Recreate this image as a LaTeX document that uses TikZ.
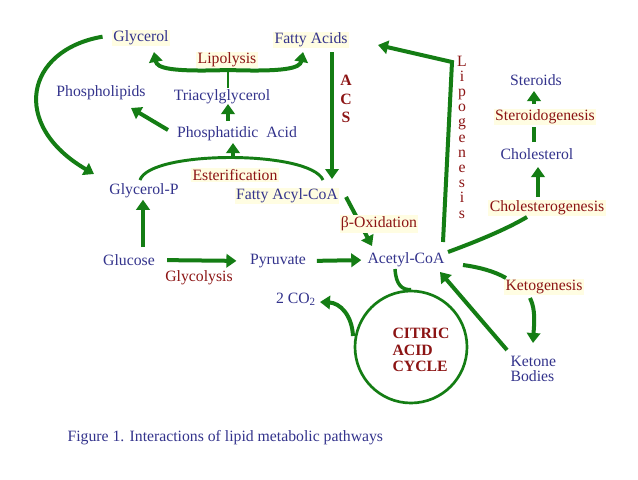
\documentclass[tikz,border=0pt]{standalone}
\usepackage{fontspec}
\setmainfont{Liberation Serif}
\usetikzlibrary{arrows.meta}
\definecolor{tblue}{RGB}{51,51,140}
\definecolor{tred}{RGB}{140,20,20}
\definecolor{tgreen}{RGB}{20,125,20}
\definecolor{cream}{RGB}{255,253,226}
\tikzset{
  met/.style={text=tblue, font=\fontsize{11.8}{13}\selectfont, inner sep=1pt},
  proc/.style={text=tred, font=\fontsize{11.8}{13}\selectfont, inner sep=1pt},
  hl/.style={fill=cream},
  flow/.style={draw=tgreen, line width=3pt, -{Triangle[length=7.5pt,width=10pt]}},
  link/.style={draw=tgreen, line width=3pt},
  thinlink/.style={draw=tgreen, line width=2pt},
}
\begin{document}
\begin{tikzpicture}[x=0.75pt,y=-0.75pt]
\useasboundingbox[fill=white] (0,0) rectangle (638,479);

% metabolites and processes
\node[met,hl] (glycerol) at (141,38) {Glycerol};
\node[met,hl] (fa) at (311,40) {Fatty Acids};
\node[proc,hl] (lipolysis) at (227,60) {Lipolysis};
\node[met] (phl) at (101,93) {Phospholipids};
\node[met] (tag) at (222,97) {Triacylglycerol};
\node[met] (pa) at (237,134) {Phosphatidic\ \ Acid};
\node[proc,hl] (ester) at (235,175) {Esterification};
\node[met] (glyp) at (144,191) {Glycerol-P};
\node[met,hl] (facoa) at (287,196) {Fatty Acyl-CoA};
\node[met] (glucose) at (129,260) {Glucose};
\node[proc] (glycolysis) at (199,278) {Glycolysis};
\node[met] (pyr) at (278,261) {Pyruvate};
\node[met] (acoa) at (406,260) {Acetyl-CoA};
\node[met] (co2) at (296,299) {2 CO\textsubscript{2}};
\node[met] (steroids) at (536,80) {Steroids};
\node[proc,hl] (sgen) at (545,117) {Steroidogenesis};
\node[met] (chol) at (537,154) {Cholesterol};
\node[proc,hl] (cgen) at (547,208) {Cholesterogenesis};
\node[proc,hl] (keto) at (544,287) {Ketogenesis};
\node[met, align=left, anchor=west, font=\fontsize{11.8}{11.3}\selectfont] (kb) at (509,369) {Ketone\\Bodies};
\node[draw=tgreen, line width=2pt, circle, minimum size=84pt, inner sep=0pt] (tca) at (411,347) {};
\node[proc, align=left, anchor=west, font=\fontsize{11.8}{12.5}\selectfont\bfseries] (tcalabel) at (391,350) {CITRIC\\ACID\\CYCLE};
\node[proc, align=center, font=\fontsize{11.8}{14}\selectfont\bfseries] (acs) at (346,99) {A\\C\\S};
\node[proc, align=center, font=\fontsize{11.8}{11.4}\selectfont] (lipog) at (462,137) {L\\i\\p\\o\\g\\e\\n\\e\\s\\i\\s};
\node[met, anchor=west] (caption) at (66,438) {Figure 1. Interactions of lipid metabolic pathways};

% helper coordinates
\coordinate (glyin) at (94,174);
\coordinate (brace) at (228,70);
\coordinate (lipcorner) at (452,62);
\coordinate (esterL) at (140,180);
\coordinate (esterR) at (323,180);
\coordinate (esterTop) at (233,158);
\coordinate (cgenin) at (527,217);
\coordinate (ketoin) at (506,278);

% Glycerol -> Glycerol-P
\draw[flow] ([xshift=-7pt,yshift=1pt]glycerol.west) .. controls (25,50) and (10,125) .. (glyin);

% Lipolysis brace
\draw[thinlink] (tag.north -| brace) -- (brace);
\draw[flow] (brace) .. controls (170,72) and (157,68) .. (154,52);
\draw[flow] (brace) .. controls (286,72) and (300,68) .. (303,52);

% Phosphatidic acid
\draw[flow] (168,130) -- (131,108);
\draw[flow] (228,121) -- (228,104);

% Esterification arc
\draw[thinlink, line width=2.2pt] (esterL) .. controls (150,150) and (310,150) .. (esterR);
\draw[flow] (esterTop) -- (233,143);

% Glucose -> Glycerol-P
\draw[flow] (143,247) -- (glyp.south -| 143,0);

% ACS
\draw[flow] (332,52) -- (332,179);

% Lipogenesis
\draw[flow] (443,242) -- (lipcorner) -- (378,45);

% beta oxidation
\draw[flow] (346,197) -- (372,246);
\node[proc,hl] (box) at (379,224) {β-Oxidation};

% main line
\draw[flow, shorten <=8pt, shorten >=9pt] (glucose.east) -- (pyr.west);
\draw[flow, shorten <=7pt, shorten >=3.5pt] (pyr.east) -- (acoa.west);

% citric acid cycle
\draw[link, line width=2.6pt] (395,269) .. controls (396,285) and (402,290) .. (tca.north);
\draw[flow] (353,336) .. controls (352,315) and (340,303) .. (320,302);

% cholesterol branch
\draw[link] (448,252) .. controls (475,242) and (505,230) .. (cgenin);
\draw[flow] (538,197) -- (538,167);
\draw[link] (534,142) -- (534,127);
\draw[flow] (534,104) -- (534,91);

% ketone branch
\draw[link] (463,265) .. controls (478,267) and (494,271) .. (ketoin);
\draw[flow] (530,298) .. controls (536,310) and (534,325) .. (533,343);
\draw[flow] (507,350) -- (440,272);
\end{tikzpicture}
\end{document}
